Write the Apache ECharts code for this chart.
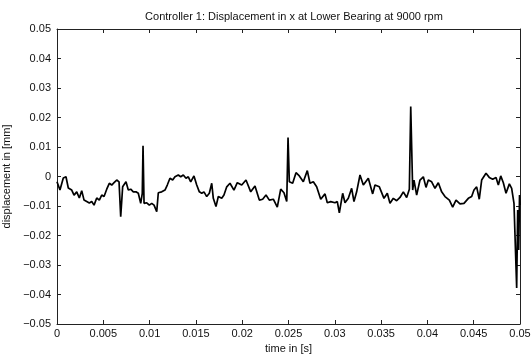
<!DOCTYPE html>
<html>
<head>
<meta charset="utf-8">
<script src="https://cdn.jsdelivr.net/npm/echarts@6/dist/echarts.min.js"></script>
<style>html,body{margin:0;padding:0;background:#fff}#c{width:532px;height:360px}</style>
</head>
<body>
<div id="c"></div>
<script>
var titleText = 'Controller 1: Displacement in x at Lower Bearing at 9000 rpm';
var xName = 'time in [s]';
var yName = 'displacement in [mm]';
var xTickLabels = ['0','0.005','0.01','0.015','0.02','0.025','0.03','0.035','0.04','0.045','0.05'];
var yTickLabels = ['\u22120.05','\u22120.04','\u22120.03','\u22120.02','\u22120.01','0','0.01','0.02','0.03','0.04','0.05'];

var timeValues = [0,0.00032,0.00068,0.00097,0.00122,0.00159,0.00184,0.00213,0.00241,0.00267,
0.00292,0.00321,0.00349,0.00375,0.00400,0.00429,0.00457,0.00483,0.00508,0.00537,
0.00565,0.00591,0.00616,0.00645,0.00670,0.00688,0.00709,0.00745,0.00770,0.00796,
0.00824,0.00853,0.00878,0.00904,0.00921,0.00929,0.00940,0.00969,0.00997,0.01023,
0.01048,0.01077,0.01094,0.01131,0.01166,0.01191,0.01220,0.01249,0.01274,0.01310,
0.01336,0.01364,0.01393,0.01418,0.01444,0.01479,0.01509,0.01537,0.01563,0.01587,
0.01617,0.01645,0.01671,0.01688,0.01717,0.01742,0.01779,0.01803,0.01833,0.01868,
0.01911,0.01947,0.01995,0.02041,0.02092,0.02138,0.02185,0.02221,0.02257,0.02293,
0.02336,0.02379,0.02416,0.02451,0.02481,0.02495,0.02509,0.02545,0.02581,0.02617,
0.02660,0.02703,0.02732,0.02768,0.02804,0.02848,0.02894,0.02919,0.02956,0.03002,
0.03027,0.03049,0.03085,0.03110,0.03146,0.03182,0.03207,0.03236,0.03272,0.03308,
0.03362,0.03409,0.03434,0.03481,0.03531,0.03567,0.03596,0.03632,0.03668,0.03704,
0.03740,0.03776,0.03805,0.03820,0.03841,0.03855,0.03884,0.03920,0.03956,0.03985,
0.04010,0.04046,0.04082,0.04118,0.04154,0.04190,0.04237,0.04273,0.04309,0.04352,
0.04395,0.04442,0.04478,0.04503,0.04532,0.04560,0.04586,0.04633,0.04668,0.04705,
0.04741,0.04766,0.04792,0.04820,0.04849,0.04885,0.04910,0.04935,0.04953,0.04964,
0.04975,0.04986,0.04995,0.05000];

var displacementValues = [-0.0018,-0.0046,-0.0005,-0.0001,-0.0039,-0.0046,-0.0063,-0.0052,-0.0073,-0.0048,
-0.0080,-0.0085,-0.0090,-0.0085,-0.0097,-0.0073,-0.0080,-0.0063,-0.0068,-0.0043,
-0.0023,-0.0029,-0.0021,-0.0012,-0.0018,-0.0136,-0.0035,-0.0018,-0.0046,-0.0043,
-0.0052,-0.0052,-0.0057,-0.0091,-0.0057,0.0104,-0.0091,-0.0089,-0.0097,-0.0091,
-0.0097,-0.0119,-0.0055,-0.0052,-0.0046,-0.0029,-0.0006,-0.0012,-0.0001,0.0005,
-0.0001,0.0005,-0.0006,-0.0001,-0.0018,0.0002,-0.0029,-0.0052,-0.0057,-0.0052,
-0.0068,-0.0057,-0.0023,-0.0074,-0.0102,-0.0068,-0.0074,-0.0063,-0.0035,-0.0023,
-0.0046,-0.0021,-0.0029,-0.0012,-0.0052,-0.0032,-0.0080,-0.0077,-0.0063,-0.0080,
-0.0077,-0.0104,-0.0043,-0.0055,-0.0085,0.0132,-0.0018,-0.0023,0.0013,0.0002,
-0.0018,0.0020,-0.0023,-0.0018,-0.0035,-0.0077,-0.0059,-0.0089,-0.0085,-0.0089,
-0.0085,-0.0123,-0.0057,-0.0089,-0.0074,-0.0040,-0.0085,-0.0052,0.0005,-0.0029,
-0.0006,-0.0059,-0.0029,-0.0035,-0.0074,-0.0057,-0.0091,-0.0074,-0.0082,-0.0071,
-0.0052,-0.0071,-0.0043,0.0237,-0.0046,-0.0012,-0.0063,-0.0012,-0.0001,-0.0037,
-0.0012,-0.0018,-0.0040,-0.0021,-0.0052,-0.0068,-0.0080,-0.0104,-0.0080,-0.0093,
-0.0091,-0.0074,-0.0068,-0.0046,-0.0035,-0.0077,-0.0012,0.0011,-0.0003,-0.0009,
-0.0003,-0.0029,0.0002,-0.0021,-0.0057,-0.0025,-0.0040,-0.0091,-0.0097,-0.0378,
-0.0114,-0.0249,-0.0063,-0.0097];

var seriesData = timeValues.map(function (t, i) { return [t, displacementValues[i]]; });

var FONT = '"Liberation Sans", Arial, Helvetica, sans-serif';
var XMIN = 0, XMAX = 0.05, XINT = 0.005;
var YMIN = -0.05, YMAX = 0.05, YINT = 0.01;

function xLab(v) { var i = Math.round((v - XMIN) / XINT); return xTickLabels[i] || ''; }
function yLab(v) { var i = Math.round((v - YMIN) / YINT); return yTickLabels[i] || ''; }

var axisLineStyle = { show: true, onZero: false, lineStyle: { color: '#222', width: 1 } };
var tickStyle = { show: true, inside: true, length: 4, lineStyle: { color: '#222', width: 1 } };

var chart = echarts.init(document.getElementById('c'), null, { renderer: 'canvas' });
chart.setOption({
  backgroundColor: '#fff',
  animation: false,
  title: {
    text: titleText, left: 289, top: 6, textAlign: 'center',
    textStyle: { fontFamily: FONT, fontSize: 11, fontWeight: 'normal', color: '#111' }
  },
  grid: { left: 57, right: 12, top: 29, bottom: 36, show: false, containLabel: false, outerBoundsMode: 'none' },
  xAxis: [{
    type: 'value', min: XMIN, max: XMAX, interval: XINT, position: 'bottom',
    name: xName, nameLocation: 'middle', nameGap: 12,
    nameTextStyle: { fontFamily: FONT, fontSize: 11, color: '#111' },
    axisLine: axisLineStyle, axisTick: tickStyle, splitLine: { show: false },
    axisLabel: { formatter: xLab, fontFamily: FONT, fontSize: 11, color: '#111', margin: 4, showMinLabel: true, showMaxLabel: true }
  }, {
    type: 'value', min: XMIN, max: XMAX, interval: XINT, position: 'top',
    axisLine: axisLineStyle, axisTick: tickStyle, splitLine: { show: false },
    axisLabel: { show: false }
  }],
  yAxis: [{
    type: 'value', min: YMIN, max: YMAX, interval: YINT, position: 'left',
    name: yName, nameLocation: 'middle', nameGap: 36, nameRotate: 90,
    nameTextStyle: { fontFamily: FONT, fontSize: 11, color: '#111' },
    axisLine: axisLineStyle, axisTick: tickStyle, splitLine: { show: false },
    axisLabel: { formatter: yLab, fontFamily: FONT, fontSize: 11, color: '#111', margin: 6, showMinLabel: true, showMaxLabel: true }
  }, {
    type: 'value', min: YMIN, max: YMAX, interval: YINT, position: 'right',
    axisLine: axisLineStyle, axisTick: tickStyle, splitLine: { show: false },
    axisLabel: { show: false }
  }],
  series: [{
    type: 'line', xAxisIndex: 0, yAxisIndex: 0, data: seriesData,
    showSymbol: false, symbol: 'none',
    lineStyle: { color: '#000', width: 1.7 }
  }]
});
</script>
</body>
</html>
